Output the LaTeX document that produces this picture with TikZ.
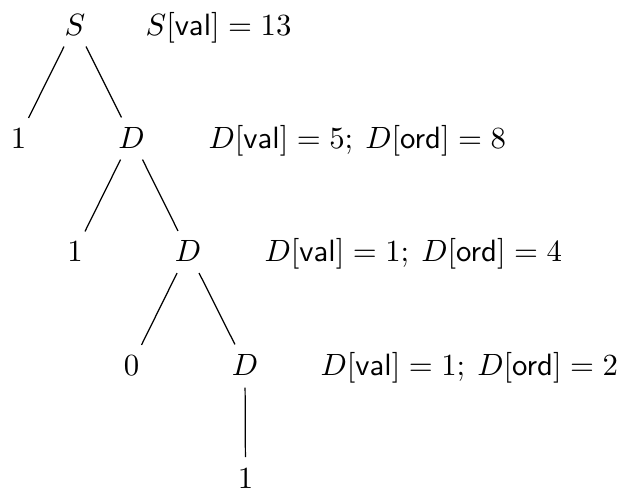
\documentclass[tikz,border=0pt]{standalone}
\begin{document}
\begin{tikzpicture}[x=0.325pt,y=-0.325pt,
  tn/.style={inner sep=0pt,anchor=base},
  lab/.style={inner sep=0pt,anchor=base west},
  edge/.style={shorten <=8pt,shorten >=7.3pt}]
\useasboundingbox (0,0) rectangle (623,491);
% tree nodes
\node[tn] (S)  at (75,35)    {$S$};
\node[tn] (a1) at (18.5,148) {$1$};
\node[tn] (D1) at (131.5,148) {$D$};
\node[tn] (b1) at (75,261.5) {$1$};
\node[tn] (D2) at (188,261.5) {$D$};
\node[tn] (c0) at (131.5,375) {$0$};
\node[tn] (D3) at (245,375) {$D$};
\node[tn] (d1) at (245.5,488) {$1$};
% labels
\node[lab] (L0) at (145,35)   {$S[\textsf{val}] = 13$};
\node[lab] (L1) at (208,148)  {$D[\textsf{val}] = 5;\:D[\textsf{ord}] = 8$};
\node[lab] (L2) at (264,261.5) {$D[\textsf{val}] = 1;\:D[\textsf{ord}] = 4$};
\node[lab] (L3) at (320,375)  {$D[\textsf{val}] = 1;\:D[\textsf{ord}] = 2$};
% edges
\draw[edge] (S.center) -- (a1.center);
\draw[edge] (S.center) -- (D1.center);
\draw[edge] (D1.center) -- (b1.center);
\draw[edge] (D1.center) -- (D2.center);
\draw[edge] (D2.center) -- (c0.center);
\draw[edge] (D2.center) -- (D3.center);
\draw[shorten <=7.5pt,shorten >=6.8pt] (D3.center) -- (d1.center);
\end{tikzpicture}
\end{document}
